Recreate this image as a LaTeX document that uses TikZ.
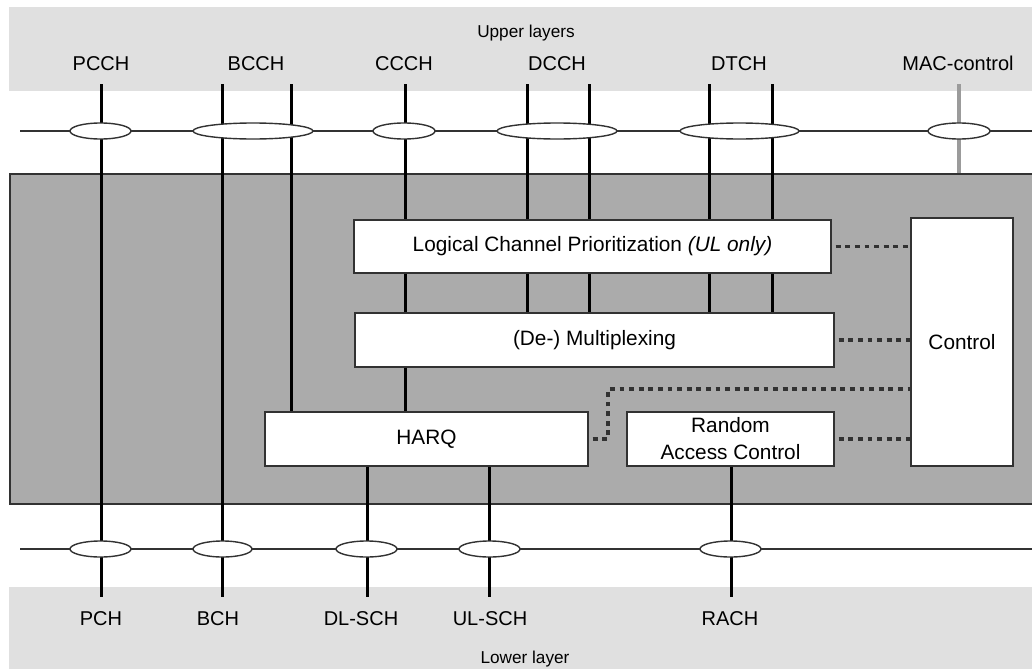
\documentclass[tikz,border=0pt]{standalone}
\usepackage{fontspec}
\setmainfont{Liberation Sans}
\usetikzlibrary{shapes.geometric,positioning}
\definecolor{bandCol}{RGB}{224,224,224}
\definecolor{macCol}{RGB}{171,171,171}
\definecolor{edgeCol}{RGB}{50,50,50}
\definecolor{ctlCol}{RGB}{155,155,155}
\tikzset{
  box/.style={draw=edgeCol,line width=0.7pt,fill=white,align=center,inner sep=0pt,
              font=\fontsize{10.4}{13.5}\selectfont},
  tap/.style={ellipse,draw=edgeCol,line width=0.7pt,fill=white,inner sep=0pt,minimum height=8pt},
  chan/.style={line width=1.5pt,black},
  bus/.style={line width=0.8pt,edgeCol},
  ctl/.style={line width=1.6pt,edgeCol,dash pattern=on 2.4pt off 2.4pt,shorten <=2pt},
  lab/.style={font=\fontsize{10}{12}\selectfont,anchor=base},
  layer/.style={font=\fontsize{8.6}{10}\selectfont,anchor=base},
}

\begin{document}
\begin{tikzpicture}[x=0.5pt,y=-0.5pt]
    \useasboundingbox (0,0) rectangle (1032,669);
    % --- layer bands ---
    \fill[bandCol] (9,7) rectangle (1032,91);
    \fill[bandCol] (9,587) rectangle (1032,669);
    \node[layer] (upper) at (526,37) {Upper layers};
    \node[layer] (lower) at (525,663) {Lower layer};
    % --- MAC entity ---
    \node[draw=edgeCol,line width=1pt,fill=macCol,minimum width=513pt,minimum height=165pt] (mac) at (523,339) {};
    \node[box,minimum width=238.5pt,minimum height=26.5pt] (lcp) at (592.5,246.5)
        {Logical Channel Prioritization \textit{(UL only)}};
    \node[box,minimum width=239.5pt,minimum height=27pt] (mux) at (594.5,340) {(De-) Multiplexing};
    \node[box,minimum width=161.5pt,minimum height=27pt] (harq) at (426.5,439) {HARQ};
    \node[box,minimum width=103.5pt,minimum height=27pt] (rac) at (730.5,439) {Random\\Access Control};
    \node[box,minimum width=51pt,minimum height=124pt] (ctrl) at (962,342) {Control};
    % --- service access points ---
    \coordinate (ul) at (20,131);
    \coordinate (ll) at (20,549);
    \draw[bus] (ul) -- ++(1012,0);
    \draw[bus] (ll) -- ++(1012,0);
    % --- channel ends ---
    \foreach \n/\x in {pcch/101,bcchA/222,bcchB/291,ccch/405,dcchA/527,dcchB/589,dtchA/709,dtchB/772,mac/959}
      \coordinate (t\n) at (\x,84);
    \foreach \n/\x in {pch/101,bch/222,dl/367,ul/489,rach/731}
      \coordinate (b\n) at (\x,597);
    % --- logical channels ---
    \draw[chan] (tpcch) -- (bpch);
    \draw[chan] (tbcchA) -- (bbch);
    \draw[chan] (tbcchB) -- (tbcchB |- harq.north);
    \foreach \c in {tccch,tdcchA,tdcchB,tdtchA,tdtchB} {
      \draw[chan] (\c) -- (\c |- lcp.north);
      \draw[chan] (\c |- lcp.south) -- (\c |- mux.north);
    }
    \draw[ctlCol,line width=2pt] (tmac) -- (tmac |- mac.north);
    % --- transport channels ---
    \draw[chan] (tccch |- mux.south) -- (tccch |- harq.north);
    \draw[chan] (bdl |- harq.south) -- (bdl);
    \draw[chan] (bul |- harq.south) -- (bul);
    \draw[chan] (brach |- rac.south) -- (brach);
    % --- SAP ellipses ---
    \foreach \n/\x/\w in {pcch/100.5/30.5,bcch/253/60,ccch/404/31,dcch/557/60,dtch/739.5/59.5,mac/959/31}
      \node[tap,minimum width=\w pt] (s\n) at (\x,131) {};
    \foreach \n/\x/\w in {pch/100.5/30.5,bch/222.5/29.5,dl/366.5/30.5,ul/489.5/30.5,rach/730.5/30.5}
      \node[tap,minimum width=\w pt] (s\n) at (\x,549) {};
    % --- control links ---
    \draw[ctl] (lcp.east) -- (lcp.east -| ctrl.west);
    \draw[ctl] (mux.east) -- (mux.east -| ctrl.west);
    \draw[ctl] (rac.east) -- (rac.east -| ctrl.west);
    \coordinate (hbend) at (608,389);
    \draw[ctl] (harq.east) -| (hbend) -- (hbend -| ctrl.west);
    % --- channel names ---
    \node[lab] (pcch) at (101,70) {PCCH};
    \node[lab] (bcch) at (256,70) {BCCH};
    \node[lab] (ccch) at (404,70) {CCCH};
    \node[lab] (dcch) at (557,70) {DCCH};
    \node[lab] (dtch) at (739,70) {DTCH};
    \node[lab] (macc) at (958,70) {MAC-control};
    \node[lab] (pch) at (101,625) {PCH};
    \node[lab] (bch) at (218,625) {BCH};
    \node[lab] (dlsch) at (361,625) {DL-SCH};
    \node[lab] (ulsch) at (490,625) {UL-SCH};
    \node[lab] (rach) at (730,625) {RACH};
  \end{tikzpicture}
\end{document}
